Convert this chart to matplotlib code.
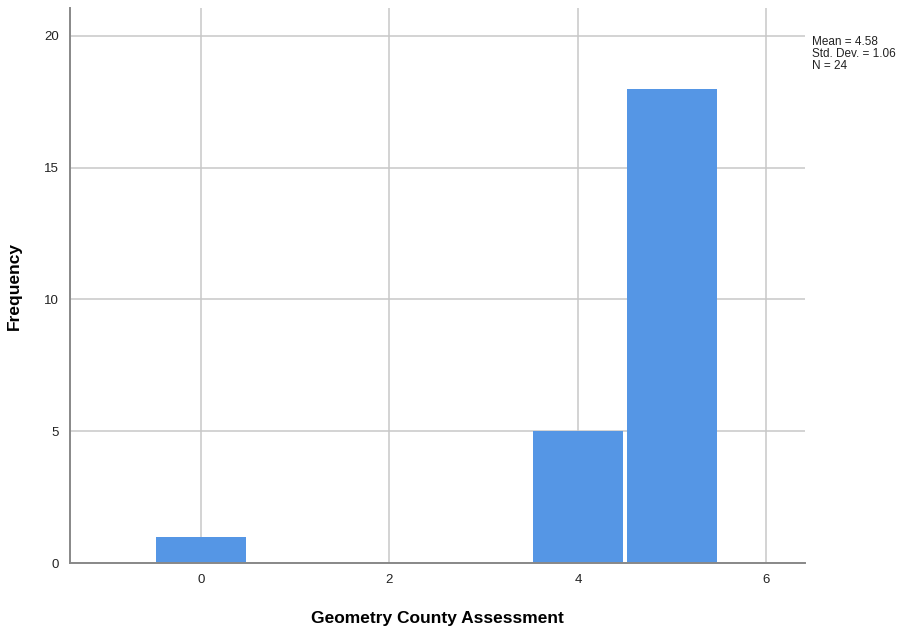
import numpy as np
import matplotlib; matplotlib.use("Agg")
import matplotlib.pyplot as plt

plt.rcParams["font.family"] = ["Liberation Sans", "DejaVu Sans"]

# histogram bins (centered on integer scores) and their frequencies
scores = [0, 1, 2, 3, 4, 5]
counts = [1, 0, 0, 0, 5, 18]
xticks = [0, 2, 4, 6]
yticks = [0, 5, 10, 15, 20]

vals = np.repeat(scores, counts)
mean, sd, n = vals.mean(), vals.std(ddof=1), len(vals)

fig = plt.figure(figsize=(9.18, 6.32), dpi=100)
ax = fig.add_axes([70 / 918, 69 / 632, 735 / 918, 555 / 632])

ax.set_axisbelow(True)
ax.grid(color="#c8c8c8", linewidth=1.1)
ax.bar(scores, counts, width=0.95, color="#5596e5", linewidth=0)

ax.set_xlim(-1.39, 6.41)
ax.set_ylim(0, 21.06)
ax.set_xticks(xticks)
ax.set_yticks(yticks)
ax.tick_params(length=0, labelsize=9.5, pad=8, colors="#222222")
for s in ("top", "right"):
    ax.spines[s].set_visible(False)
for s in ("left", "bottom"):
    ax.spines[s].set_color("#888888")
    ax.spines[s].set_linewidth(1.4)

ax.set_xlabel("Geometry County Assessment", fontsize=12.5, fontweight="bold", labelpad=18)
ax.set_ylabel("Frequency", fontsize=12.5, fontweight="bold", labelpad=16)

fig.text(812 / 918, 1 - 36 / 632,
         f"Mean = {mean:.2f}\nStd. Dev. = {sd:.2f}\nN = {n}",
         fontsize=8.5, va="top", ha="left", linespacing=1.0, color="#222222")

fig.savefig("out.png", dpi=100)
